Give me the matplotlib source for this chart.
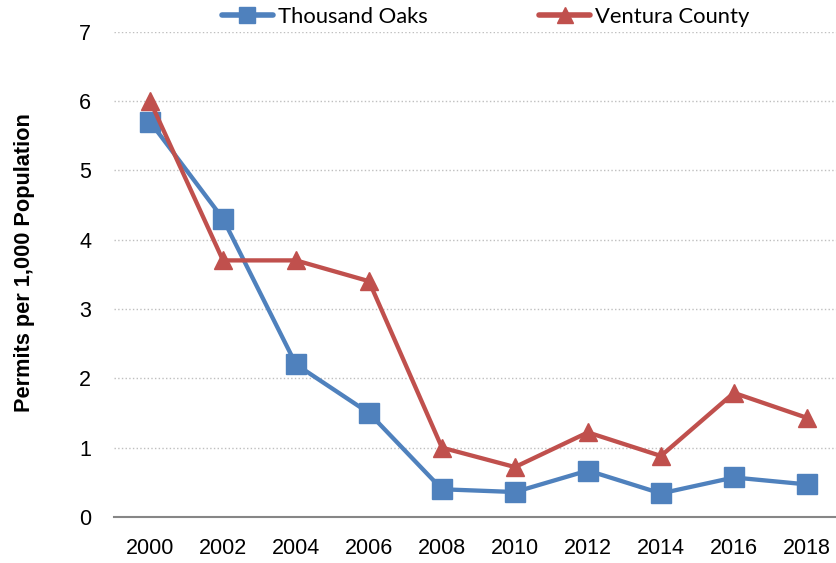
import matplotlib.pyplot as plt
from matplotlib.lines import Line2D

years = ['2000', '2002', '2004', '2006', '2008', '2010', '2012', '2014', '2016', '2018']
thousand_oaks = [5.70, 4.30, 2.20, 1.50, 0.40, 0.36, 0.67, 0.34, 0.57, 0.47]
ventura_county = [6.00, 3.70, 3.70, 3.40, 1.00, 0.72, 1.22, 0.88, 1.79, 1.43]

blue = '#4F81BD'
red = '#C0504D'

plt.rcParams['font.family'] = ['Liberation Sans', 'DejaVu Sans']

fig = plt.figure(figsize=(8.36, 5.63), dpi=100)
ax = fig.add_axes([0.1358, 0.0817, 0.873, 0.8623])

x = list(range(len(years)))
ax.plot(x, thousand_oaks, color=blue, linewidth=3.1, marker='s', markersize=14, zorder=3)
ax.plot(x, ventura_county, color=red, linewidth=3.1, marker='^', markersize=13, zorder=3)

ax.set_xlim(-0.5, len(years) - 0.5)
ax.set_ylim(0, 7)
ax.set_xticks(x)
ax.set_xticklabels(years)
ax.set_yticks(range(0, 8))
ax.tick_params(length=0, labelsize=15.5)
ax.tick_params(axis='y', pad=16)
ax.tick_params(axis='x', pad=15)

ax.grid(axis='y', linestyle=':', color='#BFBFBF', linewidth=1)
ax.set_axisbelow(True)
for side in ['left', 'right', 'top']:
    ax.spines[side].set_visible(False)
ax.spines['bottom'].set_color('#868686')
ax.spines['bottom'].set_linewidth(1.5)

fig.text(0.029, 0.533, 'Permits per 1,000 Population', rotation=90, ha='center', va='center',
         fontsize=15.7, fontweight='bold')

handles = [
    Line2D([], [], color=blue, linewidth=4, marker='s', markersize=12, solid_capstyle='round'),
    Line2D([], [], color=red, linewidth=4, marker='^', markersize=11, solid_capstyle='round'),
]
fig.legend(handles, ['Thousand Oaks', 'Ventura County'], loc='center', ncol=2,
           bbox_to_anchor=(0.581, 0.970), frameon=False, handlelength=2.3,
           handletextpad=0.23, columnspacing=5.1, prop={'family': 'Lato', 'size': 15.8})

fig.savefig('out.png', dpi=100)
